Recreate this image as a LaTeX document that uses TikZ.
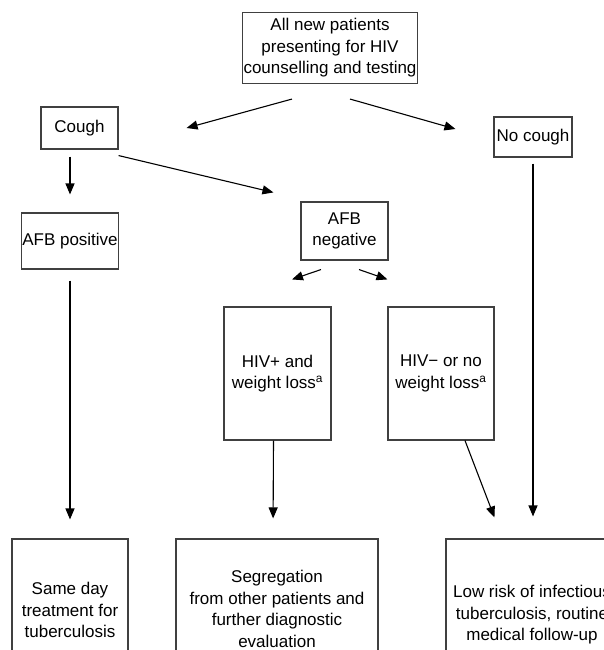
\documentclass[tikz,border=0pt]{standalone}
\usepackage{fontspec}
\setmainfont{Liberation Sans}
\usetikzlibrary{arrows.meta, positioning}

\begin{document}
\begin{tikzpicture}[x=1pt, y=-1pt, font=\fontsize{17}{21.5}\selectfont,
        flowbox/.style={draw=black!75, line width=1.1pt, align=center, inner sep=1pt},
        flowarrow/.style={-{Triangle[length=11pt,width=9pt]}, line width=1.1pt}]
        \useasboundingbox (0,0) rectangle (604,650);
        \clip (0,0) rectangle (604,650);

        \node[flowbox, minimum width=174pt, minimum height=71pt] (allnew) at (330,48) {All new patients\\presenting for HIV\\counselling and testing};
        \node[flowbox, minimum width=77pt, minimum height=42pt] (cough) at (79.5,128) {Cough};
        \node[flowbox, minimum width=78pt, minimum height=40pt] (nocough) at (533,137) {No cough};
        \node[flowbox, minimum width=96pt, minimum height=56pt] (afbpos) at (70,241) {AFB positive};
        \node[flowbox, minimum width=87pt, minimum height=58pt] (afbneg) at (344.5,231) {AFB\\negative};
        \node[flowbox, minimum width=107pt, minimum height=133pt] (hivpos) at (277.5,373.5) {HIV+ and\\weight loss\textsuperscript{a}};
        \node[flowbox, minimum width=106pt, minimum height=133pt] (hivneg) at (441,373.5) {HIV− or no\\weight loss\textsuperscript{a}};
        \node[flowbox, minimum width=116pt, minimum height=142pt] (sameday) at (70,610) {Same day\\treatment for\\tuberculosis};
        \node[flowbox, minimum width=202pt, minimum height=140pt] (segr) at (277,609) {Segregation\\from other patients and\\further diagnostic\\evaluation};
        \node[flowbox, minimum width=172pt, minimum height=152pt] (lowrisk) at (532,615) {Low risk of infectious\\tuberculosis, routine\\medical follow-up};

        \draw[flowarrow] ([xshift=-38pt,yshift=-15pt]allnew.south) -- ([xshift=68pt]cough.east);
        \draw[flowarrow] ([xshift=20pt,yshift=-15pt]allnew.south) -- ([xshift=-38pt,yshift=8pt]nocough.west);
        \draw[flowarrow, shorten <=7pt, shorten >=18pt] (cough.south -| afbpos.north) -- (afbpos.north);
        \draw[flowarrow] ([yshift=-6pt]cough.south east) -- ([xshift=-27pt,yshift=9pt]afbneg.north west);
        \draw[flowarrow] ([xshift=-23.5pt,yshift=-9pt]afbneg.south) -- ([xshift=14.5pt,yshift=27pt]hivpos.north);
        \draw[flowarrow] ([xshift=14.5pt,yshift=-9pt]afbneg.south) -- ([yshift=27pt]hivneg.north west);
        \draw[flowarrow, shorten <=11pt, shorten >=19pt] (afbpos.south) -- (sameday.north);
        \draw[flowarrow, shorten >=20pt] ([xshift=-4pt]hivpos.south) -- ([xshift=-4pt]segr.north);
        \draw[flowarrow] ([xshift=24pt]hivneg.south) -- ([xshift=49pt,yshift=21pt]lowrisk.north west);
        \draw[flowarrow, shorten <=6pt, shorten >=22pt] (nocough.south) -- (nocough.south |- lowrisk.north);
    \end{tikzpicture}
\end{document}
